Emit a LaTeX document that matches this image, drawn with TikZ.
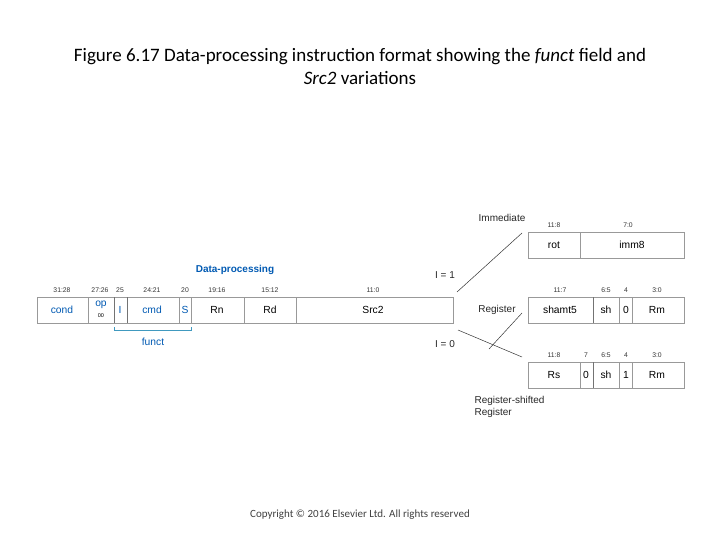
\documentclass[tikz,border=0pt]{standalone}
\usepackage{fontspec}
\setmainfont{Liberation Sans}
\newfontfamily\carlitofont{Carlito}
\begin{document}
\begin{tikzpicture}[x=1pt,y=-1pt,
 fld/.style={draw=gray!80,line width=0.6pt},
 thk/.style={draw=gray!90!black,line width=1pt},
 bit/.style={font=\fontsize{6.8}{7}\selectfont,text=black!80},
 ft/.style={font=\fontsize{10.3}{11}\selectfont},
 bl/.style={ft,text=blue!50!cyan!70!black},
 lab/.style={font=\fontsize{10}{12}\selectfont,text=black!85},
 ln/.style={draw=black!80,line width=0.5pt}]
\useasboundingbox (0,0) rectangle (720,540);
\node[font=\carlitofont\fontsize{19}{23}\selectfont,align=center] (title) at (360,66) {Figure 6.17 Data-processing instruction format showing the \textit{funct} field and\\ \textit{Src2} variations};
\node[font=\carlitofont\fontsize{11}{13}\selectfont,text=black!75] (copy) at (360,515) {Copyright © 2016 Elsevier Ltd. All rights reserved};
% main box
\draw[fld] (37,297) rectangle (453,323);
\foreach \x in {88,114,179,244,296} \draw[fld] (\x,297)--(\x,323);
\draw[thk] (114,297)--(114,323) (127,297)--(127,323);
\draw[fld] (179,297)--(179,323) (191,297)--(191,323);
\node[bl] (cond) at (62,310) {cond};
\node[bl,inner sep=0] (op) at (101,305) {op};
\node[font=\fontsize{5.5}{6}\selectfont,inner sep=0] (opv) at (101,316) {00};
\node[bl] (I) at (120,310) {I};
\node[bl] (cmd) at (152,310) {cmd};
\node[bl] (S) at (185,310) {S};
\node[ft] (Rn) at (217,310) {Rn};
\node[ft] (Rd) at (270,310) {Rd};
\node[ft] (Src2) at (373,310) {Src2};
\foreach \x/\t in {62/31:28,100/27:26,120/25,152/24:21,185/20,217/19:16,270/15:12,373/11:0}
 \node[bit] at (\x,290) {\t};
\node[bl,font=\bfseries\fontsize{10}{11}\selectfont] (dp) at (235,270) {Data-processing};
\draw[draw=blue!30!cyan!50!gray,line width=0.5pt] (114,327)--(114,330)--(191,330)--(191,327);
\node[bl] (funct) at (153,342) {funct};
% immediate
\draw[fld] (528,232) rectangle (684,258) (580,232)--(580,258);
\node[ft] (rot) at (554,245) {rot};
\node[ft] (imm8) at (632,245) {imm8};
\node[bit] at (554,225) {11:8};
\node[bit] at (628,225) {7:0};
% register
\draw[fld] (528,297) rectangle (684,323) (619,297)--(619,323) (632,297)--(632,323);
\draw[thk] (593,297)--(593,323);
\node[ft] (shamt) at (560,310) {shamt5};
\node[ft] (sh1) at (606,310) {sh};
\node[ft] (z1) at (626,310) {0};
\node[ft] (Rm1) at (657,310) {Rm};
\foreach \x/\t in {560/11:7,606/6:5,626/4,657/3:0} \node[bit] at (\x,290) {\t};
% register shifted
\draw[fld] (528,362) rectangle (684,388) (580,362)--(580,388) (619,362)--(619,388) (632,362)--(632,388);
\draw[thk] (593,362)--(593,388);
\node[ft] (Rs) at (554,375) {Rs};
\node[ft] (z2) at (586,375) {0};
\node[ft] (sh2) at (606,375) {sh};
\node[ft] (o2) at (626,375) {1};
\node[ft] (Rm2) at (657,375) {Rm};
\foreach \x/\t in {554/11:8,586/7,606/6:5,626/4,657/3:0} \node[bit] at (\x,355) {\t};
% connectors
\coordinate (a1) at (457,292); \coordinate (a2) at (522,233);
\coordinate (b1) at (489,349); \coordinate (b2) at (522,313);
\coordinate (c1) at (458,330); \coordinate (c2) at (522,357);
\draw[ln] (a1)--(a2) (b1)--(b2) (c1)--(c2);
\node[lab] (i1) at (445,275) {I = 1};
\node[lab] (i0) at (445,344) {I = 0};
\node[lab] (imm) at (502,218) {Immediate};
\node[lab] (reg) at (497,310) {Register};
\node[lab,align=left,anchor=north west] (rsr) at (471,393) {Register-shifted\\Register};
\end{tikzpicture}
\end{document}
